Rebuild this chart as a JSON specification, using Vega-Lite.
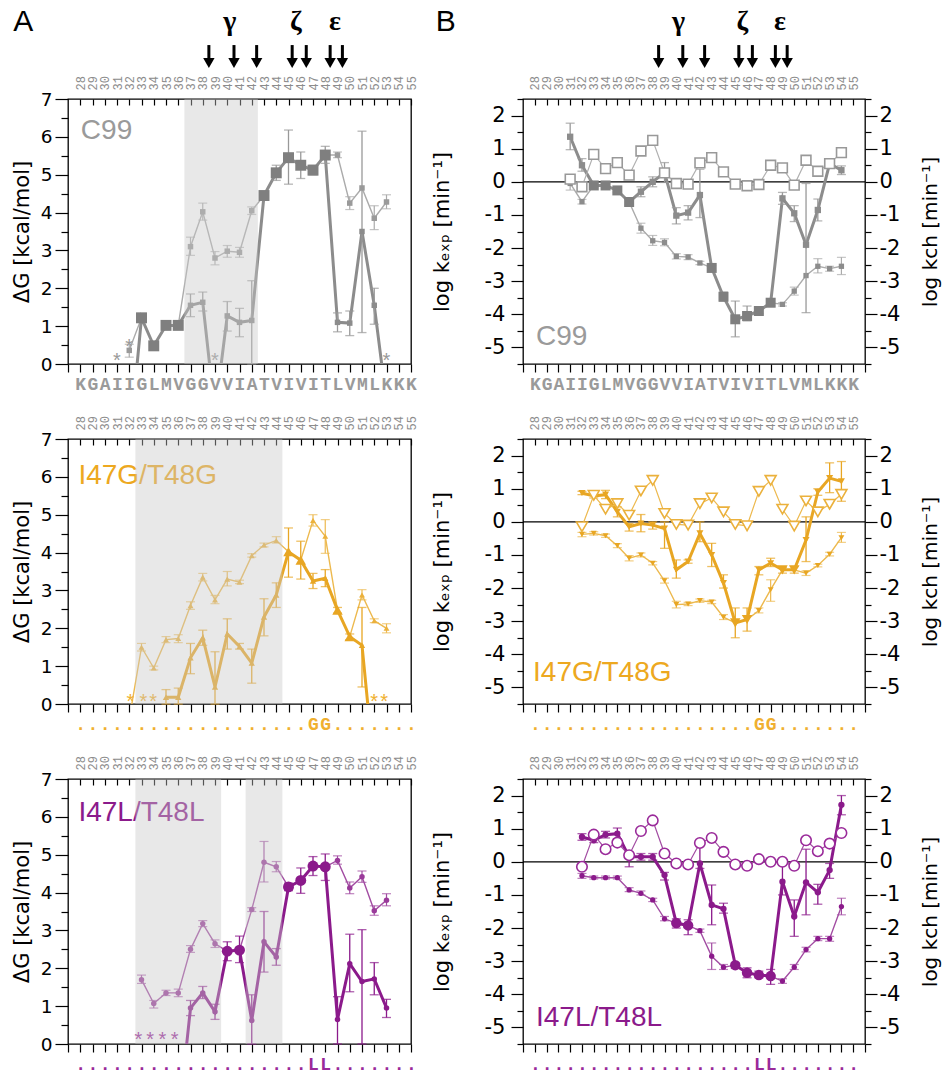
{
"$schema":"https://vega.github.io/schema/vega-lite/v6.json",
"padding":{"left":10,"top":6,"right":0,"bottom":0},
"config":{
 "view":{"stroke":"#000","strokeWidth":1.3},
 "axis":{"domain":false,"grid":false,"tickColor":"#000","tickWidth":1.2,"labelFont":"DejaVu Sans","titleFont":"DejaVu Sans","titleFontWeight":"normal","labelColor":"#000","titleColor":"#000","labelOverlap":false,"labelFlush":false,"labelBound":false},
 "text":{"font":"Liberation Sans"}
},
"datasets":{
"arrows":[{"r":38.5},{"r":40.55},{"r":42.4},{"r":45.3},{"r":46.45},{"r":48.4},{"r":49.4}],
"greek":[{"r":40.2,"g":"γ"},{"r":45.6,"g":"ζ"},{"r":48.8,"g":"ε"}],
"shade":[{"p":"CA","r1":36.5,"r2":42.5},{"p":"GA","r1":32.5,"r2":44.5},{"p":"LA","r1":32.5,"r2":39.5},{"p":"LA","r1":41.5,"r2":44.5}],
"ast":[{"p":"CA","r":31,"v":0.18},{"p":"CA","r":32,"v":0.55},{"p":"CA","r":39,"v":0.18},{"p":"CA","r":53,"v":0.18},
{"p":"GA","r":32.1,"v":0.17},{"p":"GA","r":33.15,"v":0.17},{"p":"GA","r":33.95,"v":0.17},{"p":"GA","r":52,"v":0.17},{"p":"GA","r":52.8,"v":0.17},
{"p":"LA","r":32.75,"v":0.22},{"p":"LA","r":33.7,"v":0.22},{"p":"LA","r":34.7,"v":0.22},{"p":"LA","r":35.7,"v":0.22}],
"pts":[
{"p":"CA","s":"k","r":32,"v":-2.2},
{"p":"CA","s":"k","r":37,"v":1.55,"lo":1.25,"hi":1.85},
{"p":"CA","s":"k","r":38,"v":1.63,"lo":1.4,"hi":1.9},
{"p":"CA","s":"k","r":39,"v":-1.3},
{"p":"CA","s":"k","r":40,"v":1.27,"lo":0.87,"hi":1.65},
{"p":"CA","s":"k","r":41,"v":1.1,"lo":0.72,"hi":1.47},
{"p":"CA","s":"k","r":42,"v":1.15,"lo":0,"hi":2.2},
{"p":"CA","s":"k","r":49,"v":1.1,"lo":0.85,"hi":1.35},
{"p":"CA","s":"k","r":50,"v":1.08,"lo":0.75,"hi":1.4},
{"p":"CA","s":"k","r":51,"v":3.5,"lo":0.83,"hi":6.15},
{"p":"CA","s":"k","r":52,"v":1.55,"lo":1.05,"hi":2.0},
{"p":"CA","s":"k","r":53,"v":-1.0},
{"p":"CA","s":"b","r":33,"v":1.22,"lo":1.12,"hi":1.32},
{"p":"CA","s":"b","r":34,"v":0.48,"lo":0.42,"hi":0.55},
{"p":"CA","s":"b","r":35,"v":1.02,"lo":0.96,"hi":1.08},
{"p":"CA","s":"b","r":36,"v":1.02,"lo":0.96,"hi":1.08},
{"p":"CA","s":"b","r":43,"v":4.45,"lo":4.35,"hi":4.55},
{"p":"CA","s":"b","r":44,"v":5.05,"lo":4.85,"hi":5.25},
{"p":"CA","s":"b","r":45,"v":5.45,"lo":4.75,"hi":6.18},
{"p":"CA","s":"b","r":46,"v":5.25,"lo":4.9,"hi":5.6},
{"p":"CA","s":"b","r":47,"v":5.12,"lo":5.0,"hi":5.25},
{"p":"CA","s":"b","r":48,"v":5.52,"lo":5.3,"hi":5.75},
{"p":"CA","s":"t","r":32,"v":0.36,"lo":0.18,"hi":0.52},
{"p":"CA","s":"t","r":37,"v":3.1,"lo":2.87,"hi":3.35},
{"p":"CA","s":"t","r":38,"v":4.02,"lo":3.8,"hi":4.25},
{"p":"CA","s":"t","r":39,"v":2.8,"lo":2.62,"hi":2.97},
{"p":"CA","s":"t","r":40,"v":2.98,"lo":2.82,"hi":3.13},
{"p":"CA","s":"t","r":41,"v":2.95,"lo":2.82,"hi":3.08},
{"p":"CA","s":"t","r":42,"v":4.05,"lo":3.95,"hi":4.15},
{"p":"CA","s":"t","r":49,"v":5.52,"lo":5.45,"hi":5.6},
{"p":"CA","s":"t","r":50,"v":4.25,"lo":4.08,"hi":4.42},
{"p":"CA","s":"t","r":51,"v":4.65},
{"p":"CA","s":"t","r":52,"v":3.85,"lo":3.55,"hi":4.18},
{"p":"CA","s":"t","r":53,"v":4.28,"lo":4.1,"hi":4.47},

{"p":"GA","s":"k","r":35,"v":0.18,"lo":0,"hi":0.38},
{"p":"GA","s":"k","r":36,"v":0.18,"lo":0,"hi":0.42},
{"p":"GA","s":"k","r":37,"v":1.22,"lo":0.8,"hi":1.6},
{"p":"GA","s":"k","r":38,"v":1.75,"lo":1.55,"hi":1.95},
{"p":"GA","s":"k","r":39,"v":0.45,"lo":0,"hi":1.38},
{"p":"GA","s":"k","r":40,"v":1.85,"lo":1.45,"hi":2.25},
{"p":"GA","s":"k","r":41,"v":1.52,"lo":1.45,"hi":1.6},
{"p":"GA","s":"k","r":42,"v":1.08,"lo":0.55,"hi":1.45},
{"p":"GA","s":"k","r":43,"v":2.3,"lo":1.8,"hi":2.78},
{"p":"GA","s":"k","r":44,"v":2.88,"lo":2.55,"hi":3.2},
{"p":"GA","s":"k","r":47,"v":3.25,"lo":3.05,"hi":3.45},
{"p":"GA","s":"k","r":48,"v":3.32,"lo":3.1,"hi":3.55},
{"p":"GA","s":"k","r":51,"v":1.55,"lo":0.45,"hi":2.55},
{"p":"GA","s":"k","r":52,"v":-1.75},
{"p":"GA","s":"b","r":45,"v":4.02,"lo":3.35,"hi":4.65},
{"p":"GA","s":"b","r":46,"v":3.8,"lo":3.3,"hi":4.3},
{"p":"GA","s":"b","r":49,"v":2.48,"lo":2.4,"hi":2.55},
{"p":"GA","s":"b","r":50,"v":1.78,"lo":1.7,"hi":1.85},
{"p":"GA","s":"t","r":32,"v":-0.4},
{"p":"GA","s":"t","r":33,"v":1.5,"lo":1.4,"hi":1.6},
{"p":"GA","s":"t","r":34,"v":0.95,"lo":0.9,"hi":1.0},
{"p":"GA","s":"t","r":35,"v":1.7,"lo":1.62,"hi":1.78},
{"p":"GA","s":"t","r":36,"v":1.73,"lo":1.62,"hi":1.83},
{"p":"GA","s":"t","r":37,"v":2.6,"lo":2.5,"hi":2.7},
{"p":"GA","s":"t","r":38,"v":3.35,"lo":3.25,"hi":3.45},
{"p":"GA","s":"t","r":39,"v":2.75,"lo":2.65,"hi":2.87},
{"p":"GA","s":"t","r":40,"v":3.3,"lo":3.12,"hi":3.5},
{"p":"GA","s":"t","r":41,"v":3.22,"lo":3.18,"hi":3.27},
{"p":"GA","s":"t","r":42,"v":3.92,"lo":3.88,"hi":3.97},
{"p":"GA","s":"t","r":43,"v":4.2,"lo":4.15,"hi":4.25},
{"p":"GA","s":"t","r":44,"v":4.32,"lo":4.25,"hi":4.42},
{"p":"GA","s":"t","r":47,"v":4.85,"lo":4.7,"hi":5.0},
{"p":"GA","s":"t","r":48,"v":4.43,"lo":3.98,"hi":4.87},
{"p":"GA","s":"t","r":51,"v":2.88,"lo":2.75,"hi":3.02},
{"p":"GA","s":"t","r":52,"v":2.2,"lo":2.15,"hi":2.25},
{"p":"GA","s":"t","r":53,"v":2.0,"lo":1.88,"hi":2.12},

{"p":"LA","s":"k","r":36,"v":-2.1},
{"p":"LA","s":"k","r":37,"v":0.95,"lo":0.75,"hi":1.15},
{"p":"LA","s":"k","r":38,"v":1.35,"lo":1.2,"hi":1.52},
{"p":"LA","s":"k","r":39,"v":0.85,"lo":0.65,"hi":1.05},
{"p":"LA","s":"k","r":42,"v":0.62,"lo":0,"hi":1.3},
{"p":"LA","s":"k","r":43,"v":2.7,"lo":1.9,"hi":3.5},
{"p":"LA","s":"k","r":44,"v":2.3,"lo":2.08,"hi":2.52},
{"p":"LA","s":"k","r":49,"v":0.65,"lo":0,"hi":1.25},
{"p":"LA","s":"k","r":50,"v":2.12,"lo":1.38,"hi":2.9},
{"p":"LA","s":"k","r":51,"v":1.65,"lo":0,"hi":3.02},
{"p":"LA","s":"k","r":52,"v":1.72,"lo":1.3,"hi":2.15},
{"p":"LA","s":"k","r":53,"v":0.95,"lo":0.7,"hi":1.18},
{"p":"LA","s":"b","r":40,"v":2.45,"lo":2.2,"hi":2.7},
{"p":"LA","s":"b","r":41,"v":2.48,"lo":2.15,"hi":2.85},
{"p":"LA","s":"b","r":45,"v":4.15,"lo":4.05,"hi":4.25},
{"p":"LA","s":"b","r":46,"v":4.32,"lo":3.98,"hi":4.65},
{"p":"LA","s":"b","r":47,"v":4.7,"lo":4.45,"hi":4.95},
{"p":"LA","s":"b","r":48,"v":4.68,"lo":4.32,"hi":5.02},
{"p":"LA","s":"t","r":33,"v":1.7,"lo":1.6,"hi":1.82},
{"p":"LA","s":"t","r":34,"v":1.07,"lo":0.95,"hi":1.15},
{"p":"LA","s":"t","r":35,"v":1.35,"lo":1.28,"hi":1.42},
{"p":"LA","s":"t","r":36,"v":1.35,"lo":1.25,"hi":1.45},
{"p":"LA","s":"t","r":37,"v":2.5,"lo":2.42,"hi":2.6},
{"p":"LA","s":"t","r":38,"v":3.18,"lo":3.1,"hi":3.26},
{"p":"LA","s":"t","r":39,"v":2.65,"lo":2.55,"hi":2.75},
{"p":"LA","s":"t","r":42,"v":3.55,"lo":3.5,"hi":3.6},
{"p":"LA","s":"t","r":43,"v":4.8,"lo":4.28,"hi":5.35},
{"p":"LA","s":"t","r":44,"v":4.68,"lo":4.55,"hi":4.82},
{"p":"LA","s":"t","r":49,"v":4.85,"lo":4.75,"hi":4.97},
{"p":"LA","s":"t","r":50,"v":4.12,"lo":3.97,"hi":4.28},
{"p":"LA","s":"t","r":51,"v":4.42,"lo":4.27,"hi":4.57},
{"p":"LA","s":"t","r":52,"v":3.52,"lo":3.4,"hi":3.65},
{"p":"LA","s":"t","r":53,"v":3.8,"lo":3.65,"hi":3.97},

{"p":"CB","s":"k","r":31,"v":1.36,"lo":0.97,"hi":1.77},
{"p":"CB","s":"k","r":32,"v":0.5,"lo":0.32,"hi":0.7},
{"p":"CB","s":"k","r":37,"v":-0.3,"lo":-0.45,"hi":-0.15},
{"p":"CB","s":"k","r":38,"v":0.0,"lo":-0.15,"hi":0.15},
{"p":"CB","s":"k","r":39,"v":0.28,"lo":-0.02,"hi":0.58},
{"p":"CB","s":"k","r":40,"v":-1.02,"lo":-1.27,"hi":-0.78},
{"p":"CB","s":"k","r":41,"v":-0.93,"lo":-1.15,"hi":-0.72},
{"p":"CB","s":"k","r":42,"v":-0.4,"lo":-1.08,"hi":0.38},
{"p":"CB","s":"k","r":49,"v":-0.5,"lo":-0.68,"hi":-0.32},
{"p":"CB","s":"k","r":50,"v":-0.95,"lo":-1.2,"hi":-0.72},
{"p":"CB","s":"k","r":51,"v":-1.9,"lo":-3.95,"hi":-0.05},
{"p":"CB","s":"k","r":52,"v":-0.85,"lo":-1.18,"hi":-0.52},
{"p":"CB","s":"k","r":53,"v":0.55,"lo":0.42,"hi":0.7},
{"p":"CB","s":"k","r":54,"v":0.35,"lo":0.22,"hi":0.48},
{"p":"CB","s":"b","r":33,"v":-0.11,"lo":-0.18,"hi":-0.05},
{"p":"CB","s":"b","r":34,"v":-0.11,"lo":-0.17,"hi":-0.05},
{"p":"CB","s":"b","r":35,"v":-0.26,"lo":-0.32,"hi":-0.2},
{"p":"CB","s":"b","r":36,"v":-0.61,"lo":-0.7,"hi":-0.53},
{"p":"CB","s":"b","r":43,"v":-2.6,"lo":-2.68,"hi":-2.52},
{"p":"CB","s":"b","r":44,"v":-3.47,"lo":-3.6,"hi":-3.33},
{"p":"CB","s":"b","r":45,"v":-4.15,"lo":-4.68,"hi":-3.6},
{"p":"CB","s":"b","r":46,"v":-4.05,"lo":-4.2,"hi":-3.75},
{"p":"CB","s":"b","r":47,"v":-3.9,"lo":-3.98,"hi":-3.82},
{"p":"CB","s":"b","r":48,"v":-3.65,"lo":-3.75,"hi":-3.55},
{"p":"CB","s":"t","r":31,"v":-0.05,"lo":-0.25,"hi":0.1},
{"p":"CB","s":"t","r":32,"v":-0.6,"lo":-0.67,"hi":-0.53},
{"p":"CB","s":"t","r":37,"v":-1.4,"lo":-1.55,"hi":-1.25},
{"p":"CB","s":"t","r":38,"v":-1.78,"lo":-1.92,"hi":-1.62},
{"p":"CB","s":"t","r":39,"v":-1.83,"lo":-1.93,"hi":-1.72},
{"p":"CB","s":"t","r":40,"v":-2.25,"lo":-2.33,"hi":-2.17},
{"p":"CB","s":"t","r":41,"v":-2.27,"lo":-2.35,"hi":-2.2},
{"p":"CB","s":"t","r":42,"v":-2.45,"lo":-2.5,"hi":-2.4},
{"p":"CB","s":"t","r":49,"v":-3.7,"lo":-3.75,"hi":-3.65},
{"p":"CB","s":"t","r":50,"v":-3.3,"lo":-3.42,"hi":-3.18},
{"p":"CB","s":"t","r":51,"v":-2.83},
{"p":"CB","s":"t","r":52,"v":-2.55,"lo":-2.75,"hi":-2.32},
{"p":"CB","s":"t","r":53,"v":-2.62,"lo":-2.7,"hi":-2.55},
{"p":"CB","s":"t","r":54,"v":-2.55,"lo":-2.8,"hi":-2.28},
{"p":"CB","s":"o","r":31,"v":0.08},{"p":"CB","s":"o","r":32,"v":-0.15},{"p":"CB","s":"o","r":33,"v":0.83},{"p":"CB","s":"o","r":34,"v":0.4},{"p":"CB","s":"o","r":35,"v":0.58},{"p":"CB","s":"o","r":36,"v":0.2},{"p":"CB","s":"o","r":37,"v":0.93},{"p":"CB","s":"o","r":38,"v":1.25},{"p":"CB","s":"o","r":39,"v":0.27},{"p":"CB","s":"o","r":40,"v":-0.05},{"p":"CB","s":"o","r":41,"v":-0.07},{"p":"CB","s":"o","r":42,"v":0.57},{"p":"CB","s":"o","r":43,"v":0.73},{"p":"CB","s":"o","r":44,"v":0.3},{"p":"CB","s":"o","r":45,"v":-0.07},{"p":"CB","s":"o","r":46,"v":-0.12},{"p":"CB","s":"o","r":47,"v":-0.08},{"p":"CB","s":"o","r":48,"v":0.5},{"p":"CB","s":"o","r":49,"v":0.42},{"p":"CB","s":"o","r":50,"v":-0.1},{"p":"CB","s":"o","r":51,"v":0.65},{"p":"CB","s":"o","r":52,"v":0.32},{"p":"CB","s":"o","r":53,"v":0.55},{"p":"CB","s":"o","r":54,"v":0.88},

{"p":"GB","s":"k","r":32,"v":0.87,"lo":0.82,"hi":0.92},
{"p":"GB","s":"k","r":33,"v":0.78,"lo":0.72,"hi":0.84},
{"p":"GB","s":"k","r":34,"v":0.82,"lo":0.7,"hi":0.95},
{"p":"GB","s":"k","r":35,"v":0.3,"lo":0.15,"hi":0.45},
{"p":"GB","s":"k","r":36,"v":-0.15,"lo":-0.28,"hi":-0.05},
{"p":"GB","s":"k","r":37,"v":-0.05,"lo":-0.3,"hi":0.22},
{"p":"GB","s":"k","r":38,"v":-0.1,"lo":-0.22,"hi":0.0},
{"p":"GB","s":"k","r":39,"v":-0.2,"lo":-0.8,"hi":0.0},
{"p":"GB","s":"k","r":40,"v":-1.45,"lo":-1.7,"hi":-1.15},
{"p":"GB","s":"k","r":41,"v":-1.2,"lo":-1.25,"hi":-1.15},
{"p":"GB","s":"k","r":42,"v":-0.35,"lo":-0.6,"hi":0.0},
{"p":"GB","s":"k","r":43,"v":-1.0,"lo":-1.35,"hi":-0.65},
{"p":"GB","s":"k","r":44,"v":-1.85,"lo":-2.0,"hi":-1.6},
{"p":"GB","s":"k","r":47,"v":-1.45,"lo":-1.6,"hi":-1.35},
{"p":"GB","s":"k","r":48,"v":-1.25,"lo":-1.35,"hi":-1.1},
{"p":"GB","s":"k","r":51,"v":-0.55,"lo":-1.2,"hi":0.15},
{"p":"GB","s":"k","r":52,"v":0.9,"lo":0.8,"hi":1.0},
{"p":"GB","s":"k","r":53,"v":1.32,"lo":0.88,"hi":1.78},
{"p":"GB","s":"k","r":54,"v":1.22,"lo":0.62,"hi":1.82},
{"p":"GB","s":"b","r":45,"v":-3.05,"lo":-3.5,"hi":-2.6},
{"p":"GB","s":"b","r":46,"v":-2.95,"lo":-3.3,"hi":-2.6},
{"p":"GB","s":"b","r":49,"v":-1.45,"lo":-1.55,"hi":-1.38},
{"p":"GB","s":"b","r":50,"v":-1.45,"lo":-1.55,"hi":-1.35},
{"p":"GB","s":"t","r":32,"v":-0.38,"lo":-0.45,"hi":-0.32},
{"p":"GB","s":"t","r":33,"v":-0.35,"lo":-0.4,"hi":-0.3},
{"p":"GB","s":"t","r":34,"v":-0.42,"lo":-0.47,"hi":-0.37},
{"p":"GB","s":"t","r":35,"v":-0.72,"lo":-0.78,"hi":-0.66},
{"p":"GB","s":"t","r":36,"v":-1.1,"lo":-1.18,"hi":-1.02},
{"p":"GB","s":"t","r":37,"v":-1.0,"lo":-1.06,"hi":-0.94},
{"p":"GB","s":"t","r":38,"v":-1.25,"lo":-1.3,"hi":-1.2},
{"p":"GB","s":"t","r":39,"v":-1.78,"lo":-1.85,"hi":-1.7},
{"p":"GB","s":"t","r":40,"v":-2.5,"lo":-2.6,"hi":-2.4},
{"p":"GB","s":"t","r":41,"v":-2.48,"lo":-2.53,"hi":-2.43},
{"p":"GB","s":"t","r":42,"v":-2.38,"lo":-2.43,"hi":-2.33},
{"p":"GB","s":"t","r":43,"v":-2.42,"lo":-2.47,"hi":-2.37},
{"p":"GB","s":"t","r":44,"v":-2.88,"lo":-2.95,"hi":-2.8},
{"p":"GB","s":"t","r":47,"v":-2.68,"lo":-2.75,"hi":-2.6},
{"p":"GB","s":"t","r":48,"v":-2.05,"lo":-2.4,"hi":-1.75},
{"p":"GB","s":"t","r":51,"v":-1.55,"lo":-1.62,"hi":-1.48},
{"p":"GB","s":"t","r":52,"v":-1.32,"lo":-1.36,"hi":-1.28},
{"p":"GB","s":"t","r":53,"v":-0.98,"lo":-1.03,"hi":-0.92},
{"p":"GB","s":"t","r":54,"v":-0.48,"lo":-0.62,"hi":-0.32},
{"p":"GB","s":"o","r":32,"v":-0.15},{"p":"GB","s":"o","r":33,"v":0.8},{"p":"GB","s":"o","r":34,"v":0.38},{"p":"GB","s":"o","r":35,"v":0.55},{"p":"GB","s":"o","r":36,"v":0.2},{"p":"GB","s":"o","r":37,"v":0.93},{"p":"GB","s":"o","r":38,"v":1.25},{"p":"GB","s":"o","r":39,"v":0.25},{"p":"GB","s":"o","r":40,"v":-0.08},{"p":"GB","s":"o","r":41,"v":-0.1},{"p":"GB","s":"o","r":42,"v":0.55},{"p":"GB","s":"o","r":43,"v":0.72},{"p":"GB","s":"o","r":44,"v":0.3},{"p":"GB","s":"o","r":45,"v":-0.08},{"p":"GB","s":"o","r":46,"v":-0.12},{"p":"GB","s":"o","r":47,"v":0.92},{"p":"GB","s":"o","r":48,"v":1.25},{"p":"GB","s":"o","r":49,"v":0.38},{"p":"GB","s":"o","r":50,"v":-0.13},{"p":"GB","s":"o","r":51,"v":0.63},{"p":"GB","s":"o","r":52,"v":0.3},{"p":"GB","s":"o","r":53,"v":0.53},{"p":"GB","s":"o","r":54,"v":0.83},

{"p":"LB","s":"k","r":32,"v":0.75,"lo":0.65,"hi":0.85},
{"p":"LB","s":"k","r":33,"v":0.65,"lo":0.58,"hi":0.72},
{"p":"LB","s":"k","r":34,"v":0.82,"lo":0.72,"hi":0.92},
{"p":"LB","s":"k","r":35,"v":0.85,"lo":0.7,"hi":1.02},
{"p":"LB","s":"k","r":36,"v":0.15,"lo":-0.15,"hi":0.22},
{"p":"LB","s":"k","r":37,"v":0.15,"lo":0.05,"hi":0.25},
{"p":"LB","s":"k","r":38,"v":0.15,"lo":0.05,"hi":0.25},
{"p":"LB","s":"k","r":39,"v":-0.4,"lo":-0.55,"hi":-0.32},
{"p":"LB","s":"k","r":42,"v":-0.05,"lo":-0.2,"hi":0.55},
{"p":"LB","s":"k","r":43,"v":-1.3,"lo":-1.9,"hi":-0.7},
{"p":"LB","s":"k","r":44,"v":-1.42,"lo":-1.55,"hi":-1.25},
{"p":"LB","s":"k","r":49,"v":-0.6,"lo":-1.0,"hi":-0.05},
{"p":"LB","s":"k","r":50,"v":-1.65,"lo":-2.25,"hi":-1.15},
{"p":"LB","s":"k","r":51,"v":-0.62,"lo":-1.6,"hi":0.38},
{"p":"LB","s":"k","r":52,"v":-0.92,"lo":-1.28,"hi":-0.68},
{"p":"LB","s":"k","r":53,"v":-0.25,"lo":-0.5,"hi":-0.05},
{"p":"LB","s":"k","r":54,"v":1.72,"lo":1.42,"hi":2.0},
{"p":"LB","s":"b","r":40,"v":-1.85,"lo":-2.0,"hi":-1.72},
{"p":"LB","s":"b","r":41,"v":-1.92,"lo":-2.2,"hi":-1.75},
{"p":"LB","s":"b","r":45,"v":-3.12,"lo":-3.22,"hi":-3.05},
{"p":"LB","s":"b","r":46,"v":-3.35,"lo":-3.5,"hi":-3.2},
{"p":"LB","s":"b","r":47,"v":-3.42,"lo":-3.5,"hi":-3.3},
{"p":"LB","s":"b","r":48,"v":-3.45,"lo":-3.7,"hi":-3.25},
{"p":"LB","s":"t","r":32,"v":-0.42,"lo":-0.5,"hi":-0.35},
{"p":"LB","s":"t","r":33,"v":-0.48,"lo":-0.52,"hi":-0.43},
{"p":"LB","s":"t","r":34,"v":-0.48,"lo":-0.52,"hi":-0.43},
{"p":"LB","s":"t","r":35,"v":-0.48,"lo":-0.52,"hi":-0.43},
{"p":"LB","s":"t","r":36,"v":-0.85,"lo":-0.9,"hi":-0.78},
{"p":"LB","s":"t","r":37,"v":-0.95,"lo":-1.0,"hi":-0.88},
{"p":"LB","s":"t","r":38,"v":-1.15,"lo":-1.2,"hi":-1.1},
{"p":"LB","s":"t","r":39,"v":-1.72,"lo":-1.78,"hi":-1.65},
{"p":"LB","s":"t","r":42,"v":-2.08,"lo":-2.13,"hi":-2.03},
{"p":"LB","s":"t","r":43,"v":-2.85,"lo":-3.25,"hi":-2.45},
{"p":"LB","s":"t","r":44,"v":-3.18,"lo":-3.25,"hi":-3.1},
{"p":"LB","s":"t","r":49,"v":-3.6,"lo":-3.67,"hi":-3.53},
{"p":"LB","s":"t","r":50,"v":-3.18,"lo":-3.25,"hi":-3.1},
{"p":"LB","s":"t","r":51,"v":-2.65,"lo":-2.72,"hi":-2.58},
{"p":"LB","s":"t","r":52,"v":-2.32,"lo":-2.38,"hi":-2.25},
{"p":"LB","s":"t","r":53,"v":-2.32,"lo":-2.4,"hi":-2.25},
{"p":"LB","s":"t","r":54,"v":-1.35,"lo":-1.6,"hi":-1.1},
{"p":"LB","s":"o","r":32,"v":-0.15},{"p":"LB","s":"o","r":33,"v":0.82},{"p":"LB","s":"o","r":34,"v":0.38},{"p":"LB","s":"o","r":35,"v":0.58},{"p":"LB","s":"o","r":36,"v":0.2},{"p":"LB","s":"o","r":37,"v":0.93},{"p":"LB","s":"o","r":38,"v":1.25},{"p":"LB","s":"o","r":39,"v":0.25},{"p":"LB","s":"o","r":40,"v":-0.05},{"p":"LB","s":"o","r":41,"v":-0.08},{"p":"LB","s":"o","r":42,"v":0.57},{"p":"LB","s":"o","r":43,"v":0.72},{"p":"LB","s":"o","r":44,"v":0.3},{"p":"LB","s":"o","r":45,"v":-0.08},{"p":"LB","s":"o","r":46,"v":-0.12},{"p":"LB","s":"o","r":47,"v":0.08},{"p":"LB","s":"o","r":48,"v":0.0},{"p":"LB","s":"o","r":49,"v":0.0},{"p":"LB","s":"o","r":50,"v":-0.12},{"p":"LB","s":"o","r":51,"v":0.65},{"p":"LB","s":"o","r":52,"v":0.32},{"p":"LB","s":"o","r":53,"v":0.55},{"p":"LB","s":"o","r":54,"v":0.87}
]
},
"spacing":12,
"hconcat":[
{"spacing":20,"vconcat":[
 {"spacing":6,"vconcat":[
  {"width":343,"height":62,"view":{"stroke":null},"layer":[
   {"data":{"name":"arrows"},"mark":{"type":"rule","strokeWidth":3,"color":"#000"},"encoding":{"x":{"field":"r","type":"quantitative","scale":{"domain":[27,55],"nice":false},"axis":null},"y":{"datum":0.37,"type":"quantitative","scale":{"domain":[0,1]},"axis":null},"y2":{"datum":0.12}}},
   {"data":{"name":"arrows"},"mark":{"type":"point","shape":"triangle-down","filled":true,"color":"#000","size":130,"opacity":1},"encoding":{"x":{"field":"r","type":"quantitative","scale":{"domain":[27,55],"nice":false},"axis":null},"y":{"datum":0.08,"type":"quantitative","scale":{"domain":[0,1]},"axis":null}}},
   {"data":{"name":"greek"},"mark":{"type":"text","font":"Liberation Serif","fontWeight":"bold","fontSize":28,"color":"#000"},"encoding":{"x":{"field":"r","type":"quantitative","scale":{"domain":[27,55],"nice":false},"axis":null},"y":{"datum":0.75,"type":"quantitative","scale":{"domain":[0,1]},"axis":null},"text":{"field":"g"}}},
   {"data":{"values":[{}]},"mark":{"type":"text","text":"A","fontSize":30,"color":"#000"},"encoding":{"x":{"datum":23.34,"type":"quantitative","scale":{"domain":[27,55],"nice":false},"axis":null},"y":{"datum":0.75,"type":"quantitative","scale":{"domain":[0,1]},"axis":null}}}
  ]},
  {"width":343,"height":265,"resolve":{"axis":{"x":"independent","y":"independent"}},"layer":[
   {"data":{"name":"pts"},"transform":[{"filter":"datum.p=='CA' && (datum.s=='t' || datum.s=='b')"}],"mark":{"type":"line","color":"#ababab","strokeWidth":1.4,"clip":true},
    "encoding":{"x":{"field":"r","type":"quantitative","scale":{"domain":[27,55],"nice":false},"axis":{"orient":"bottom","values":[27,28,29,30,31,32,33,34,35,36,37,38,39,40,41,42,43,44,45,46,47,48,49,50,51,52,53,54,55],"tickSize":8,"labelAngle":0,"labelExpr":"substring(' KGAIIGLMVGGVVIATVIVITLVMLKKK', datum.value-27, datum.value-26)","labelFont":"Liberation Mono","labelFontWeight":"bold","labelFontSize":18,"labelColor":"#9a9a9a","labelPadding":3,"title":null}},
     "y":{"field":"v","type":"quantitative","scale":{"domain":[0,7],"nice":false},"axis":{"orient":"left","values":[0,0.5,1,1.5,2,2.5,3,3.5,4,4.5,5,5.5,6,6.5,7],"tickSize":{"condition":{"test":"datum.value % 1 === 0","value":13},"value":7},"labelExpr":"datum.value % 1 === 0 ? '' + datum.value : ''","labelFontSize":18.5,"labelPadding":3,"title":"ΔG [kcal/mol]","titleFontSize":21,"titlePadding":8}}}},
   {"data":{"name":"pts"},"transform":[{"filter":"datum.p=='CA' && datum.s=='t' && isValid(datum.lo)"}],"mark":{"type":"errorbar","color":"#ababab","thickness":1.2,"ticks":{"size":9}},
    "encoding":{"x":{"field":"r","type":"quantitative","scale":{"domain":[27,55],"nice":false},"axis":null},"y":{"field":"lo","type":"quantitative","scale":{"domain":[0,7],"nice":false},"axis":null},"y2":{"field":"hi"}}},
   {"data":{"name":"pts"},"transform":[{"filter":"datum.p=='CA' && datum.s=='t'"}],"mark":{"type":"point","shape":"square","filled":true,"size":30,"color":"#9a9a9a","opacity":1,"clip":true},
    "encoding":{"x":{"field":"r","type":"quantitative","scale":{"domain":[27,55],"nice":false},"axis":{"orient":"top","values":[28,29,30,31,32,33,34,35,36,37,38,39,40,41,42,43,44,45,46,47,48,49,50,51,52,53,54,55],"tickSize":-6,"labelAngle":-90,"labelAlign":"left","labelBaseline":"middle","labelFont":"Liberation Mono","labelFontSize":12,"labelColor":"#8c8c8c","labelPadding":15,"title":null}},
     "y":{"field":"v","type":"quantitative","scale":{"domain":[0,7],"nice":false},"axis":null}}},
   {"data":{"name":"pts"},"transform":[{"filter":"datum.p=='CA' && (datum.s=='k' || datum.s=='b')"}],"mark":{"type":"line","color":"#8c8c8c","strokeWidth":3,"clip":true},
    "encoding":{"x":{"field":"r","type":"quantitative","scale":{"domain":[27,55],"nice":false},"axis":null},"y":{"field":"v","type":"quantitative","scale":{"domain":[0,7],"nice":false},"axis":null}}},
   {"data":{"name":"pts"},"transform":[{"filter":"datum.p=='CA' && (datum.s=='k' || datum.s=='b') && isValid(datum.lo)"}],"mark":{"type":"errorbar","color":"#999999","thickness":1.3,"ticks":{"size":9}},
    "encoding":{"x":{"field":"r","type":"quantitative","scale":{"domain":[27,55],"nice":false},"axis":null},"y":{"field":"lo","type":"quantitative","scale":{"domain":[0,7],"nice":false},"axis":null},"y2":{"field":"hi"}}},
   {"data":{"name":"pts"},"transform":[{"filter":"datum.p=='CA' && datum.s=='k'"}],"mark":{"type":"point","shape":"square","filled":true,"size":30,"color":"#8c8c8c","opacity":1,"clip":true},
    "encoding":{"x":{"field":"r","type":"quantitative","scale":{"domain":[27,55],"nice":false},"axis":null},"y":{"field":"v","type":"quantitative","scale":{"domain":[0,7],"nice":false},"axis":null}}},
   {"data":{"name":"pts"},"transform":[{"filter":"datum.p=='CA' && datum.s=='b'"}],"mark":{"type":"point","shape":"square","filled":true,"size":120,"color":"#7f7f7f","opacity":1,"clip":true},
    "encoding":{"x":{"field":"r","type":"quantitative","scale":{"domain":[27,55],"nice":false},"axis":null},"y":{"field":"v","type":"quantitative","scale":{"domain":[0,7],"nice":false},"axis":null}}},
   {"data":{"name":"ast"},"transform":[{"filter":"datum.p=='CA'"}],"mark":{"type":"text","text":"*","fontSize":20,"color":"#999999","baseline":"alphabetic","dy":10},
    "encoding":{"x":{"field":"r","type":"quantitative","scale":{"domain":[27,55],"nice":false},"axis":null},"y":{"field":"v","type":"quantitative","scale":{"domain":[0,7],"nice":false},"axis":null}}},
   {"data":{"values":[{}]},"mark":{"type":"text","text":"C99","fontSize":28,"color":"#9a9a9a","align":"left","baseline":"alphabetic"},
    "encoding":{"x":{"datum":28.05,"type":"quantitative","scale":{"domain":[27,55],"nice":false},"axis":null},"y":{"datum":5.94,"type":"quantitative","scale":{"domain":[0,7],"nice":false},"axis":null}}},
   {"data":{"name":"shade"},"transform":[{"filter":"datum.p=='CA'"}],"mark":{"type":"rect","color":"#c8c8c8","opacity":0.42},
    "encoding":{"x":{"field":"r1","type":"quantitative","scale":{"domain":[27,55],"nice":false},"axis":null},"x2":{"field":"r2"}}}
  ]}
 ]},
 {"width":343,"height":265,"resolve":{"axis":{"x":"independent","y":"independent"}},"layer":[
   {"data":{"name":"pts"},"transform":[{"filter":"datum.p=='GA' && (datum.s=='t' || datum.s=='b')"}],"mark":{"type":"line","color":"#EDB94E","strokeWidth":1.4,"clip":true},
    "encoding":{"x":{"field":"r","type":"quantitative","scale":{"domain":[27,55],"nice":false},"axis":{"orient":"bottom","values":[27,28,29,30,31,32,33,34,35,36,37,38,39,40,41,42,43,44,45,46,47,48,49,50,51,52,53,54,55],"tickSize":8,"labelAngle":0,"labelExpr":"substring(' ...................GG.......', datum.value-27, datum.value-26)","labelFont":"Liberation Mono","labelFontWeight":"bold","labelFontSize":18,"labelColor":"#F0B030","labelPadding":3,"title":null}},
     "y":{"field":"v","type":"quantitative","scale":{"domain":[0,7],"nice":false},"axis":{"orient":"left","values":[0,0.5,1,1.5,2,2.5,3,3.5,4,4.5,5,5.5,6,6.5,7],"tickSize":{"condition":{"test":"datum.value % 1 === 0","value":13},"value":7},"labelExpr":"datum.value % 1 === 0 ? '' + datum.value : ''","labelFontSize":18.5,"labelPadding":3,"title":"ΔG [kcal/mol]","titleFontSize":21,"titlePadding":8}}}},
   {"data":{"name":"pts"},"transform":[{"filter":"datum.p=='GA' && datum.s=='t' && isValid(datum.lo)"}],"mark":{"type":"errorbar","color":"#EDB94E","thickness":1.2,"ticks":{"size":9}},
    "encoding":{"x":{"field":"r","type":"quantitative","scale":{"domain":[27,55],"nice":false},"axis":null},"y":{"field":"lo","type":"quantitative","scale":{"domain":[0,7],"nice":false},"axis":null},"y2":{"field":"hi"}}},
   {"data":{"name":"pts"},"transform":[{"filter":"datum.p=='GA' && datum.s=='t'"}],"mark":{"type":"point","shape":"triangle-up","filled":true,"size":35,"color":"#EBB13C","opacity":1,"clip":true},
    "encoding":{"x":{"field":"r","type":"quantitative","scale":{"domain":[27,55],"nice":false},"axis":{"orient":"top","values":[28,29,30,31,32,33,34,35,36,37,38,39,40,41,42,43,44,45,46,47,48,49,50,51,52,53,54,55],"tickSize":-6,"labelAngle":-90,"labelAlign":"left","labelBaseline":"middle","labelFont":"Liberation Mono","labelFontSize":12,"labelColor":"#8c8c8c","labelPadding":15,"title":null}},
     "y":{"field":"v","type":"quantitative","scale":{"domain":[0,7],"nice":false},"axis":null}}},
   {"data":{"name":"pts"},"transform":[{"filter":"datum.p=='GA' && (datum.s=='k' || datum.s=='b')"}],"mark":{"type":"line","color":"#E8A623","strokeWidth":3,"clip":true},
    "encoding":{"x":{"field":"r","type":"quantitative","scale":{"domain":[27,55],"nice":false},"axis":null},"y":{"field":"v","type":"quantitative","scale":{"domain":[0,7],"nice":false},"axis":null}}},
   {"data":{"name":"pts"},"transform":[{"filter":"datum.p=='GA' && (datum.s=='k' || datum.s=='b') && isValid(datum.lo)"}],"mark":{"type":"errorbar","color":"#E8A623","thickness":1.3,"ticks":{"size":9}},
    "encoding":{"x":{"field":"r","type":"quantitative","scale":{"domain":[27,55],"nice":false},"axis":null},"y":{"field":"lo","type":"quantitative","scale":{"domain":[0,7],"nice":false},"axis":null},"y2":{"field":"hi"}}},
   {"data":{"name":"pts"},"transform":[{"filter":"datum.p=='GA' && datum.s=='k'"}],"mark":{"type":"point","shape":"triangle-up","filled":true,"size":40,"color":"#E8A623","opacity":1,"clip":true},
    "encoding":{"x":{"field":"r","type":"quantitative","scale":{"domain":[27,55],"nice":false},"axis":null},"y":{"field":"v","type":"quantitative","scale":{"domain":[0,7],"nice":false},"axis":null}}},
   {"data":{"name":"pts"},"transform":[{"filter":"datum.p=='GA' && datum.s=='b'"}],"mark":{"type":"point","shape":"triangle-up","filled":true,"size":110,"color":"#E8A623","opacity":1,"clip":true},
    "encoding":{"x":{"field":"r","type":"quantitative","scale":{"domain":[27,55],"nice":false},"axis":null},"y":{"field":"v","type":"quantitative","scale":{"domain":[0,7],"nice":false},"axis":null}}},
   {"data":{"name":"ast"},"transform":[{"filter":"datum.p=='GA'"}],"mark":{"type":"text","text":"*","fontSize":20,"color":"#F0B030","baseline":"alphabetic","dy":10},
    "encoding":{"x":{"field":"r","type":"quantitative","scale":{"domain":[27,55],"nice":false},"axis":null},"y":{"field":"v","type":"quantitative","scale":{"domain":[0,7],"nice":false},"axis":null}}},
   {"data":{"values":[{}]},"mark":{"type":"text","text":"I47G/T48G","fontSize":28,"color":"#EDA820","align":"left","baseline":"alphabetic"},
    "encoding":{"x":{"datum":27.85,"type":"quantitative","scale":{"domain":[27,55],"nice":false},"axis":null},"y":{"datum":5.82,"type":"quantitative","scale":{"domain":[0,7],"nice":false},"axis":null}}},
   {"data":{"name":"shade"},"transform":[{"filter":"datum.p=='GA'"}],"mark":{"type":"rect","color":"#c8c8c8","opacity":0.42},
    "encoding":{"x":{"field":"r1","type":"quantitative","scale":{"domain":[27,55],"nice":false},"axis":null},"x2":{"field":"r2"}}}
 ]},
 {"width":343,"height":265,"resolve":{"axis":{"x":"independent","y":"independent"}},"layer":[
   {"data":{"name":"pts"},"transform":[{"filter":"datum.p=='LA' && (datum.s=='t' || datum.s=='b')"}],"mark":{"type":"line","color":"#A24CA2","strokeWidth":1.4,"clip":true},
    "encoding":{"x":{"field":"r","type":"quantitative","scale":{"domain":[27,55],"nice":false},"axis":{"orient":"bottom","values":[27,28,29,30,31,32,33,34,35,36,37,38,39,40,41,42,43,44,45,46,47,48,49,50,51,52,53,54,55],"tickSize":8,"labelAngle":0,"labelExpr":"substring(' ...................LL.......', datum.value-27, datum.value-26)","labelFont":"Liberation Mono","labelFontWeight":"bold","labelFontSize":18,"labelColor":"#9A2A9A","labelPadding":3,"title":null}},
     "y":{"field":"v","type":"quantitative","scale":{"domain":[0,7],"nice":false},"axis":{"orient":"left","values":[0,0.5,1,1.5,2,2.5,3,3.5,4,4.5,5,5.5,6,6.5,7],"tickSize":{"condition":{"test":"datum.value % 1 === 0","value":13},"value":7},"labelExpr":"datum.value % 1 === 0 ? '' + datum.value : ''","labelFontSize":18.5,"labelPadding":3,"title":"ΔG [kcal/mol]","titleFontSize":21,"titlePadding":8}}}},
   {"data":{"name":"pts"},"transform":[{"filter":"datum.p=='LA' && datum.s=='t' && isValid(datum.lo)"}],"mark":{"type":"errorbar","color":"#A24CA2","thickness":1.2,"ticks":{"size":9}},
    "encoding":{"x":{"field":"r","type":"quantitative","scale":{"domain":[27,55],"nice":false},"axis":null},"y":{"field":"lo","type":"quantitative","scale":{"domain":[0,7],"nice":false},"axis":null},"y2":{"field":"hi"}}},
   {"data":{"name":"pts"},"transform":[{"filter":"datum.p=='LA' && datum.s=='t'"}],"mark":{"type":"point","shape":"circle","filled":true,"size":30,"color":"#9A3A9A","opacity":1,"clip":true},
    "encoding":{"x":{"field":"r","type":"quantitative","scale":{"domain":[27,55],"nice":false},"axis":{"orient":"top","values":[28,29,30,31,32,33,34,35,36,37,38,39,40,41,42,43,44,45,46,47,48,49,50,51,52,53,54,55],"tickSize":-6,"labelAngle":-90,"labelAlign":"left","labelBaseline":"middle","labelFont":"Liberation Mono","labelFontSize":12,"labelColor":"#8c8c8c","labelPadding":15,"title":null}},
     "y":{"field":"v","type":"quantitative","scale":{"domain":[0,7],"nice":false},"axis":null}}},
   {"data":{"name":"pts"},"transform":[{"filter":"datum.p=='LA' && (datum.s=='k' || datum.s=='b')"}],"mark":{"type":"line","color":"#8B1A8B","strokeWidth":3,"clip":true},
    "encoding":{"x":{"field":"r","type":"quantitative","scale":{"domain":[27,55],"nice":false},"axis":null},"y":{"field":"v","type":"quantitative","scale":{"domain":[0,7],"nice":false},"axis":null}}},
   {"data":{"name":"pts"},"transform":[{"filter":"datum.p=='LA' && (datum.s=='k' || datum.s=='b') && isValid(datum.lo)"}],"mark":{"type":"errorbar","color":"#8B1A8B","thickness":1.3,"ticks":{"size":9}},
    "encoding":{"x":{"field":"r","type":"quantitative","scale":{"domain":[27,55],"nice":false},"axis":null},"y":{"field":"lo","type":"quantitative","scale":{"domain":[0,7],"nice":false},"axis":null},"y2":{"field":"hi"}}},
   {"data":{"name":"pts"},"transform":[{"filter":"datum.p=='LA' && datum.s=='k'"}],"mark":{"type":"point","shape":"circle","filled":true,"size":30,"color":"#8B1A8B","opacity":1,"clip":true},
    "encoding":{"x":{"field":"r","type":"quantitative","scale":{"domain":[27,55],"nice":false},"axis":null},"y":{"field":"v","type":"quantitative","scale":{"domain":[0,7],"nice":false},"axis":null}}},
   {"data":{"name":"pts"},"transform":[{"filter":"datum.p=='LA' && datum.s=='b'"}],"mark":{"type":"point","shape":"circle","filled":true,"size":120,"color":"#8B1A8B","opacity":1,"clip":true},
    "encoding":{"x":{"field":"r","type":"quantitative","scale":{"domain":[27,55],"nice":false},"axis":null},"y":{"field":"v","type":"quantitative","scale":{"domain":[0,7],"nice":false},"axis":null}}},
   {"data":{"name":"ast"},"transform":[{"filter":"datum.p=='LA'"}],"mark":{"type":"text","text":"*","fontSize":20,"color":"#9A2A9A","baseline":"alphabetic","dy":10},
    "encoding":{"x":{"field":"r","type":"quantitative","scale":{"domain":[27,55],"nice":false},"axis":null},"y":{"field":"v","type":"quantitative","scale":{"domain":[0,7],"nice":false},"axis":null}}},
   {"data":{"values":[{}]},"mark":{"type":"text","text":"I47L/T48L","fontSize":28,"color":"#8B1A8B","align":"left","baseline":"alphabetic"},
    "encoding":{"x":{"datum":27.85,"type":"quantitative","scale":{"domain":[27,55],"nice":false},"axis":null},"y":{"datum":5.88,"type":"quantitative","scale":{"domain":[0,7],"nice":false},"axis":null}}},
   {"data":{"name":"shade"},"transform":[{"filter":"datum.p=='LA'"}],"mark":{"type":"rect","color":"#c8c8c8","opacity":0.42},
    "encoding":{"x":{"field":"r1","type":"quantitative","scale":{"domain":[27,55],"nice":false},"axis":null},"x2":{"field":"r2"}}}
 ]}
]},
{"spacing":20,"vconcat":[
 {"spacing":6,"vconcat":[
  {"width":342,"height":62,"view":{"stroke":null},"layer":[
   {"data":{"name":"arrows"},"mark":{"type":"rule","strokeWidth":3,"color":"#000"},"encoding":{"x":{"field":"r","type":"quantitative","scale":{"domain":[27,56],"nice":false},"axis":null},"y":{"datum":0.37,"type":"quantitative","scale":{"domain":[0,1]},"axis":null},"y2":{"datum":0.12}}},
   {"data":{"name":"arrows"},"mark":{"type":"point","shape":"triangle-down","filled":true,"color":"#000","size":130,"opacity":1},"encoding":{"x":{"field":"r","type":"quantitative","scale":{"domain":[27,56],"nice":false},"axis":null},"y":{"datum":0.08,"type":"quantitative","scale":{"domain":[0,1]},"axis":null}}},
   {"data":{"name":"greek"},"mark":{"type":"text","font":"Liberation Serif","fontWeight":"bold","fontSize":28,"color":"#000"},"encoding":{"x":{"field":"r","type":"quantitative","scale":{"domain":[27,56],"nice":false},"axis":null},"y":{"datum":0.75,"type":"quantitative","scale":{"domain":[0,1]},"axis":null},"text":{"field":"g"}}},
   {"data":{"values":[{}]},"mark":{"type":"text","text":"B","fontSize":30,"color":"#000"},"encoding":{"x":{"datum":20.46,"type":"quantitative","scale":{"domain":[27,56],"nice":false},"axis":null},"y":{"datum":0.75,"type":"quantitative","scale":{"domain":[0,1]},"axis":null}}}
  ]},
  {"width":342,"height":265,"resolve":{"axis":{"x":"independent","y":"independent"}},"layer":[
   {"data":{"values":[{}]},"mark":{"type":"rule","color":"#000","strokeWidth":1.3},"encoding":{"y":{"datum":0,"type":"quantitative","scale":{"domain":[-5.5,2.5],"nice":false},"axis":null}}},
   {"data":{"name":"pts"},"transform":[{"filter":"datum.p=='CB' && (datum.s=='t' || datum.s=='b')"}],"mark":{"type":"line","color":"#ababab","strokeWidth":1.4,"clip":true},
    "encoding":{"x":{"field":"r","type":"quantitative","scale":{"domain":[27,56],"nice":false},"axis":{"orient":"top","values":[28,29,30,31,32,33,34,35,36,37,38,39,40,41,42,43,44,45,46,47,48,49,50,51,52,53,54,55],"tickSize":-6,"labelAngle":-90,"labelAlign":"left","labelBaseline":"middle","labelFont":"Liberation Mono","labelFontSize":12,"labelColor":"#8c8c8c","labelPadding":15,"title":null}},
     "y":{"field":"v","type":"quantitative","scale":{"domain":[-5.5,2.5],"nice":false},"axis":{"orient":"left","values":[-5.5,-5,-4.5,-4,-3.5,-3,-2.5,-2,-1.5,-1,-0.5,0,0.5,1,1.5,2,2.5],"tickSize":{"condition":{"test":"datum.value % 1 === 0","value":12},"value":6},"labelExpr":"datum.value % 1 === 0 ? '' + datum.value : ''","labelFontSize":21,"labelPadding":6,"title":"log kₑₓₚ [min⁻¹]","titleFontSize":21,"titlePadding":32}}}},
   {"data":{"name":"pts"},"transform":[{"filter":"datum.p=='CB' && datum.s=='t' && isValid(datum.lo)"}],"mark":{"type":"errorbar","color":"#ababab","thickness":1.2,"ticks":{"size":9}},
    "encoding":{"x":{"field":"r","type":"quantitative","scale":{"domain":[27,56],"nice":false},"axis":null},"y":{"field":"lo","type":"quantitative","scale":{"domain":[-5.5,2.5],"nice":false},"axis":null},"y2":{"field":"hi"}}},
   {"data":{"name":"pts"},"transform":[{"filter":"datum.p=='CB' && datum.s=='t'"}],"mark":{"type":"point","shape":"square","filled":true,"size":28,"color":"#8c8c8c","opacity":1},
    "encoding":{"x":{"field":"r","type":"quantitative","scale":{"domain":[27,56],"nice":false},"axis":null},"y":{"field":"v","type":"quantitative","scale":{"domain":[-5.5,2.5],"nice":false},"axis":null}}},
   {"data":{"name":"pts"},"transform":[{"filter":"datum.p=='CB' && (datum.s=='k' || datum.s=='b')"}],"mark":{"type":"line","color":"#8c8c8c","strokeWidth":3,"clip":true},
    "encoding":{"x":{"field":"r","type":"quantitative","scale":{"domain":[27,56],"nice":false},"axis":{"orient":"bottom","values":[27,28,29,30,31,32,33,34,35,36,37,38,39,40,41,42,43,44,45,46,47,48,49,50,51,52,53,54,55,56],"tickSize":8,"labelAngle":0,"labelExpr":"substring(' KGAIIGLMVGGVVIATVIVITLVMLKKK', datum.value-27, datum.value-26)","labelFont":"Liberation Mono","labelFontWeight":"bold","labelFontSize":18,"labelColor":"#9a9a9a","labelPadding":3,"title":null}},
     "y":{"field":"v","type":"quantitative","scale":{"domain":[-5.5,2.5],"nice":false},"axis":null}}},
   {"data":{"name":"pts"},"transform":[{"filter":"datum.p=='CB' && (datum.s=='k' || datum.s=='b') && isValid(datum.lo)"}],"mark":{"type":"errorbar","color":"#999999","thickness":1.3,"ticks":{"size":9}},
    "encoding":{"x":{"field":"r","type":"quantitative","scale":{"domain":[27,56],"nice":false},"axis":null},"y":{"field":"lo","type":"quantitative","scale":{"domain":[-5.5,2.5],"nice":false},"axis":null},"y2":{"field":"hi"}}},
   {"data":{"name":"pts"},"transform":[{"filter":"datum.p=='CB' && datum.s=='k'"}],"mark":{"type":"point","shape":"square","filled":true,"size":40,"color":"#8c8c8c","opacity":1},
    "encoding":{"x":{"field":"r","type":"quantitative","scale":{"domain":[27,56],"nice":false},"axis":null},"y":{"field":"v","type":"quantitative","scale":{"domain":[-5.5,2.5],"nice":false},"axis":null}}},
   {"data":{"name":"pts"},"transform":[{"filter":"datum.p=='CB' && datum.s=='b'"}],"mark":{"type":"point","shape":"square","filled":true,"size":100,"color":"#7f7f7f","opacity":1},
    "encoding":{"x":{"field":"r","type":"quantitative","scale":{"domain":[27,56],"nice":false},"axis":null},"y":{"field":"v","type":"quantitative","scale":{"domain":[-5.5,2.5],"nice":false},"axis":null}}},
   {"data":{"name":"pts"},"transform":[{"filter":"datum.p=='CB' && datum.s=='o'"}],"mark":{"type":"line","color":"#b0b0b0","strokeWidth":1.2},
    "encoding":{"x":{"field":"r","type":"quantitative","scale":{"domain":[27,56],"nice":false},"axis":null},"y":{"field":"v","type":"quantitative","scale":{"domain":[-5.5,2.5],"nice":false},"axis":null}}},
   {"data":{"name":"pts"},"transform":[{"filter":"datum.p=='CB' && datum.s=='o'"}],"mark":{"type":"point","shape":"square","filled":true,"fill":"#ffffff","stroke":"#999999","strokeWidth":1.6,"size":95,"opacity":1},
    "encoding":{"x":{"field":"r","type":"quantitative","scale":{"domain":[27,56],"nice":false},"axis":null},
     "y":{"field":"v","type":"quantitative","scale":{"domain":[-5.5,2.5],"nice":false},"axis":{"orient":"right","values":[-5.5,-5,-4.5,-4,-3.5,-3,-2.5,-2,-1.5,-1,-0.5,0,0.5,1,1.5,2,2.5],"tickSize":{"condition":{"test":"datum.value % 1 === 0","value":12},"value":6},"labelExpr":"datum.value % 1 === 0 ? '' + datum.value : ''","labelFontSize":21,"labelPadding":2,"title":"log kch [min⁻¹]","titleFontSize":20,"titlePadding":21,"titleAngle":270,"titleBaseline":"top"}}}},
   {"data":{"values":[{}]},"mark":{"type":"text","text":"C99","fontSize":28,"color":"#9a9a9a","align":"left","baseline":"alphabetic"},
    "encoding":{"x":{"datum":28.1,"type":"quantitative","scale":{"domain":[27,56],"nice":false},"axis":null},"y":{"datum":-4.93,"type":"quantitative","scale":{"domain":[-5.5,2.5],"nice":false},"axis":null}}}
  ]}
 ]},
 {"width":342,"height":265,"resolve":{"axis":{"x":"independent","y":"independent"}},"layer":[
   {"data":{"values":[{}]},"mark":{"type":"rule","color":"#000","strokeWidth":1.3},"encoding":{"y":{"datum":0,"type":"quantitative","scale":{"domain":[-5.5,2.5],"nice":false},"axis":null}}},
   {"data":{"name":"pts"},"transform":[{"filter":"datum.p=='GB' && (datum.s=='t' || datum.s=='b')"}],"mark":{"type":"line","color":"#EDB94E","strokeWidth":1.4,"clip":true},
    "encoding":{"x":{"field":"r","type":"quantitative","scale":{"domain":[27,56],"nice":false},"axis":{"orient":"top","values":[28,29,30,31,32,33,34,35,36,37,38,39,40,41,42,43,44,45,46,47,48,49,50,51,52,53,54,55],"tickSize":-6,"labelAngle":-90,"labelAlign":"left","labelBaseline":"middle","labelFont":"Liberation Mono","labelFontSize":12,"labelColor":"#8c8c8c","labelPadding":15,"title":null}},
     "y":{"field":"v","type":"quantitative","scale":{"domain":[-5.5,2.5],"nice":false},"axis":{"orient":"left","values":[-5.5,-5,-4.5,-4,-3.5,-3,-2.5,-2,-1.5,-1,-0.5,0,0.5,1,1.5,2,2.5],"tickSize":{"condition":{"test":"datum.value % 1 === 0","value":12},"value":6},"labelExpr":"datum.value % 1 === 0 ? '' + datum.value : ''","labelFontSize":21,"labelPadding":6,"title":"log kₑₓₚ [min⁻¹]","titleFontSize":21,"titlePadding":32}}}},
   {"data":{"name":"pts"},"transform":[{"filter":"datum.p=='GB' && datum.s=='t' && isValid(datum.lo)"}],"mark":{"type":"errorbar","color":"#EDB94E","thickness":1.2,"ticks":{"size":9}},
    "encoding":{"x":{"field":"r","type":"quantitative","scale":{"domain":[27,56],"nice":false},"axis":null},"y":{"field":"lo","type":"quantitative","scale":{"domain":[-5.5,2.5],"nice":false},"axis":null},"y2":{"field":"hi"}}},
   {"data":{"name":"pts"},"transform":[{"filter":"datum.p=='GB' && datum.s=='t'"}],"mark":{"type":"point","shape":"triangle-down","filled":true,"size":35,"color":"#E8A623","opacity":1},
    "encoding":{"x":{"field":"r","type":"quantitative","scale":{"domain":[27,56],"nice":false},"axis":null},"y":{"field":"v","type":"quantitative","scale":{"domain":[-5.5,2.5],"nice":false},"axis":null}}},
   {"data":{"name":"pts"},"transform":[{"filter":"datum.p=='GB' && (datum.s=='k' || datum.s=='b')"}],"mark":{"type":"line","color":"#E8A623","strokeWidth":3,"clip":true},
    "encoding":{"x":{"field":"r","type":"quantitative","scale":{"domain":[27,56],"nice":false},"axis":{"orient":"bottom","values":[27,28,29,30,31,32,33,34,35,36,37,38,39,40,41,42,43,44,45,46,47,48,49,50,51,52,53,54,55,56],"tickSize":8,"labelAngle":0,"labelExpr":"substring(' ...................GG.......', datum.value-27, datum.value-26)","labelFont":"Liberation Mono","labelFontWeight":"bold","labelFontSize":18,"labelColor":"#F0B030","labelPadding":3,"title":null}},
     "y":{"field":"v","type":"quantitative","scale":{"domain":[-5.5,2.5],"nice":false},"axis":null}}},
   {"data":{"name":"pts"},"transform":[{"filter":"datum.p=='GB' && (datum.s=='k' || datum.s=='b') && isValid(datum.lo)"}],"mark":{"type":"errorbar","color":"#E8A623","thickness":1.3,"ticks":{"size":9}},
    "encoding":{"x":{"field":"r","type":"quantitative","scale":{"domain":[27,56],"nice":false},"axis":null},"y":{"field":"lo","type":"quantitative","scale":{"domain":[-5.5,2.5],"nice":false},"axis":null},"y2":{"field":"hi"}}},
   {"data":{"name":"pts"},"transform":[{"filter":"datum.p=='GB' && datum.s=='k'"}],"mark":{"type":"point","shape":"triangle-down","filled":true,"size":50,"color":"#E8A623","opacity":1},
    "encoding":{"x":{"field":"r","type":"quantitative","scale":{"domain":[27,56],"nice":false},"axis":null},"y":{"field":"v","type":"quantitative","scale":{"domain":[-5.5,2.5],"nice":false},"axis":null}}},
   {"data":{"name":"pts"},"transform":[{"filter":"datum.p=='GB' && datum.s=='b'"}],"mark":{"type":"point","shape":"triangle-down","filled":true,"size":110,"color":"#E8A623","opacity":1},
    "encoding":{"x":{"field":"r","type":"quantitative","scale":{"domain":[27,56],"nice":false},"axis":null},"y":{"field":"v","type":"quantitative","scale":{"domain":[-5.5,2.5],"nice":false},"axis":null}}},
   {"data":{"name":"pts"},"transform":[{"filter":"datum.p=='GB' && datum.s=='o'"}],"mark":{"type":"line","color":"#EDB94E","strokeWidth":1.2},
    "encoding":{"x":{"field":"r","type":"quantitative","scale":{"domain":[27,56],"nice":false},"axis":null},"y":{"field":"v","type":"quantitative","scale":{"domain":[-5.5,2.5],"nice":false},"axis":null}}},
   {"data":{"name":"pts"},"transform":[{"filter":"datum.p=='GB' && datum.s=='o'"}],"mark":{"type":"point","shape":"triangle-down","filled":true,"fill":"#ffffff","stroke":"#EBB13C","strokeWidth":1.6,"size":120,"opacity":1},
    "encoding":{"x":{"field":"r","type":"quantitative","scale":{"domain":[27,56],"nice":false},"axis":null},
     "y":{"field":"v","type":"quantitative","scale":{"domain":[-5.5,2.5],"nice":false},"axis":{"orient":"right","values":[-5.5,-5,-4.5,-4,-3.5,-3,-2.5,-2,-1.5,-1,-0.5,0,0.5,1,1.5,2,2.5],"tickSize":{"condition":{"test":"datum.value % 1 === 0","value":12},"value":6},"labelExpr":"datum.value % 1 === 0 ? '' + datum.value : ''","labelFontSize":21,"labelPadding":2,"title":"log kch [min⁻¹]","titleFontSize":20,"titlePadding":21,"titleAngle":270,"titleBaseline":"top"}}}},
   {"data":{"values":[{}]},"mark":{"type":"text","text":"I47G/T48G","fontSize":28,"color":"#EDA820","align":"left","baseline":"alphabetic"},
    "encoding":{"x":{"datum":27.85,"type":"quantitative","scale":{"domain":[27,56],"nice":false},"axis":null},"y":{"datum":-4.8,"type":"quantitative","scale":{"domain":[-5.5,2.5],"nice":false},"axis":null}}}
 ]},
 {"width":342,"height":265,"resolve":{"axis":{"x":"independent","y":"independent"}},"layer":[
   {"data":{"values":[{}]},"mark":{"type":"rule","color":"#000","strokeWidth":1.3},"encoding":{"y":{"datum":0,"type":"quantitative","scale":{"domain":[-5.5,2.5],"nice":false},"axis":null}}},
   {"data":{"name":"pts"},"transform":[{"filter":"datum.p=='LB' && (datum.s=='t' || datum.s=='b')"}],"mark":{"type":"line","color":"#A24CA2","strokeWidth":1.4,"clip":true},
    "encoding":{"x":{"field":"r","type":"quantitative","scale":{"domain":[27,56],"nice":false},"axis":{"orient":"top","values":[28,29,30,31,32,33,34,35,36,37,38,39,40,41,42,43,44,45,46,47,48,49,50,51,52,53,54,55],"tickSize":-6,"labelAngle":-90,"labelAlign":"left","labelBaseline":"middle","labelFont":"Liberation Mono","labelFontSize":12,"labelColor":"#8c8c8c","labelPadding":15,"title":null}},
     "y":{"field":"v","type":"quantitative","scale":{"domain":[-5.5,2.5],"nice":false},"axis":{"orient":"left","values":[-5.5,-5,-4.5,-4,-3.5,-3,-2.5,-2,-1.5,-1,-0.5,0,0.5,1,1.5,2,2.5],"tickSize":{"condition":{"test":"datum.value % 1 === 0","value":12},"value":6},"labelExpr":"datum.value % 1 === 0 ? '' + datum.value : ''","labelFontSize":21,"labelPadding":6,"title":"log kₑₓₚ [min⁻¹]","titleFontSize":21,"titlePadding":32}}}},
   {"data":{"name":"pts"},"transform":[{"filter":"datum.p=='LB' && datum.s=='t' && isValid(datum.lo)"}],"mark":{"type":"errorbar","color":"#A24CA2","thickness":1.2,"ticks":{"size":9}},
    "encoding":{"x":{"field":"r","type":"quantitative","scale":{"domain":[27,56],"nice":false},"axis":null},"y":{"field":"lo","type":"quantitative","scale":{"domain":[-5.5,2.5],"nice":false},"axis":null},"y2":{"field":"hi"}}},
   {"data":{"name":"pts"},"transform":[{"filter":"datum.p=='LB' && datum.s=='t'"}],"mark":{"type":"point","shape":"circle","filled":true,"size":28,"color":"#8B1A8B","opacity":1},
    "encoding":{"x":{"field":"r","type":"quantitative","scale":{"domain":[27,56],"nice":false},"axis":null},"y":{"field":"v","type":"quantitative","scale":{"domain":[-5.5,2.5],"nice":false},"axis":null}}},
   {"data":{"name":"pts"},"transform":[{"filter":"datum.p=='LB' && (datum.s=='k' || datum.s=='b')"}],"mark":{"type":"line","color":"#8B1A8B","strokeWidth":3,"clip":true},
    "encoding":{"x":{"field":"r","type":"quantitative","scale":{"domain":[27,56],"nice":false},"axis":{"orient":"bottom","values":[27,28,29,30,31,32,33,34,35,36,37,38,39,40,41,42,43,44,45,46,47,48,49,50,51,52,53,54,55,56],"tickSize":8,"labelAngle":0,"labelExpr":"substring(' ...................LL.......', datum.value-27, datum.value-26)","labelFont":"Liberation Mono","labelFontWeight":"bold","labelFontSize":18,"labelColor":"#9A2A9A","labelPadding":3,"title":null}},
     "y":{"field":"v","type":"quantitative","scale":{"domain":[-5.5,2.5],"nice":false},"axis":null}}},
   {"data":{"name":"pts"},"transform":[{"filter":"datum.p=='LB' && (datum.s=='k' || datum.s=='b') && isValid(datum.lo)"}],"mark":{"type":"errorbar","color":"#8B1A8B","thickness":1.3,"ticks":{"size":9}},
    "encoding":{"x":{"field":"r","type":"quantitative","scale":{"domain":[27,56],"nice":false},"axis":null},"y":{"field":"lo","type":"quantitative","scale":{"domain":[-5.5,2.5],"nice":false},"axis":null},"y2":{"field":"hi"}}},
   {"data":{"name":"pts"},"transform":[{"filter":"datum.p=='LB' && datum.s=='k'"}],"mark":{"type":"point","shape":"circle","filled":true,"size":40,"color":"#8B1A8B","opacity":1},
    "encoding":{"x":{"field":"r","type":"quantitative","scale":{"domain":[27,56],"nice":false},"axis":null},"y":{"field":"v","type":"quantitative","scale":{"domain":[-5.5,2.5],"nice":false},"axis":null}}},
   {"data":{"name":"pts"},"transform":[{"filter":"datum.p=='LB' && datum.s=='b'"}],"mark":{"type":"point","shape":"circle","filled":true,"size":110,"color":"#8B1A8B","opacity":1},
    "encoding":{"x":{"field":"r","type":"quantitative","scale":{"domain":[27,56],"nice":false},"axis":null},"y":{"field":"v","type":"quantitative","scale":{"domain":[-5.5,2.5],"nice":false},"axis":null}}},
   {"data":{"name":"pts"},"transform":[{"filter":"datum.p=='LB' && datum.s=='o'"}],"mark":{"type":"line","color":"#A24CA2","strokeWidth":1.2},
    "encoding":{"x":{"field":"r","type":"quantitative","scale":{"domain":[27,56],"nice":false},"axis":null},"y":{"field":"v","type":"quantitative","scale":{"domain":[-5.5,2.5],"nice":false},"axis":null}}},
   {"data":{"name":"pts"},"transform":[{"filter":"datum.p=='LB' && datum.s=='o'"}],"mark":{"type":"point","shape":"circle","filled":true,"fill":"#ffffff","stroke":"#9A2A9A","strokeWidth":1.6,"size":110,"opacity":1},
    "encoding":{"x":{"field":"r","type":"quantitative","scale":{"domain":[27,56],"nice":false},"axis":null},
     "y":{"field":"v","type":"quantitative","scale":{"domain":[-5.5,2.5],"nice":false},"axis":{"orient":"right","values":[-5.5,-5,-4.5,-4,-3.5,-3,-2.5,-2,-1.5,-1,-0.5,0,0.5,1,1.5,2,2.5],"tickSize":{"condition":{"test":"datum.value % 1 === 0","value":12},"value":6},"labelExpr":"datum.value % 1 === 0 ? '' + datum.value : ''","labelFontSize":21,"labelPadding":2,"title":"log kch [min⁻¹]","titleFontSize":20,"titlePadding":21,"titleAngle":270,"titleBaseline":"top"}}}},
   {"data":{"values":[{}]},"mark":{"type":"text","text":"I47L/T48L","fontSize":28,"color":"#8B1A8B","align":"left","baseline":"alphabetic"},
    "encoding":{"x":{"datum":28.1,"type":"quantitative","scale":{"domain":[27,56],"nice":false},"axis":null},"y":{"datum":-4.95,"type":"quantitative","scale":{"domain":[-5.5,2.5],"nice":false},"axis":null}}}
 ]}
]}
]
}
